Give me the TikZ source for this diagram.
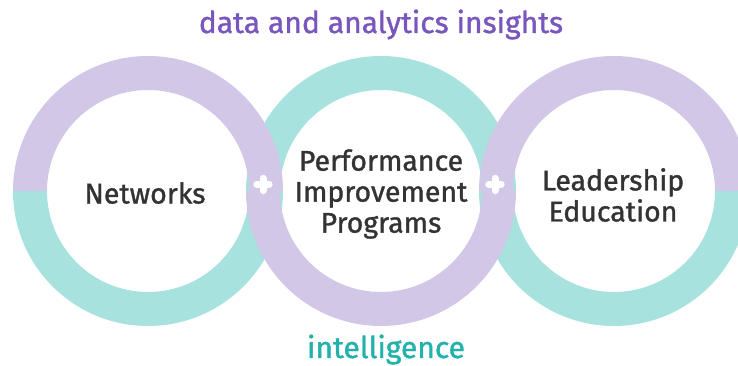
\documentclass[tikz,border=0pt]{standalone}
\usepackage{fontspec}
\setmainfont{Fira Sans}
\newfontfamily\medfont{Fira Sans}[FakeBold=1.2]
\usepackage{xcolor}
\usetikzlibrary{positioning,calc}

\definecolor{ringpurple}{HTML}{D3C7E7}
\definecolor{ringteal}{HTML}{A7E2DF}
\definecolor{headpurple}{HTML}{7856BE}
\definecolor{headteal}{HTML}{22B1AB}
\definecolor{labelgray}{HTML}{333333}

\newcommand{\rout}{135}
\newcommand{\rin}{101}
% half ring: centre, start angle, colour
\newcommand{\halfring}[3]{%
    \fill[#3] ($(#1)+(#2:\rout)$) arc[start angle=#2, delta angle=180, radius=\rout]
        -- ($(#1)+(#2+180:\rin)$) arc[start angle=#2+180, delta angle=-180, radius=\rin] -- cycle;
}

\begin{document}
\begin{tikzpicture}[
    x=1pt, y=1pt,
    label/.style={
        align=center,
        text=labelgray,
        font=\medfont\fontsize{28.5}{31}\selectfont
    },
    head/.style={
        anchor=base,
        font=\medfont\fontsize{30}{34}\selectfont
    },
    plus/.style={
        minimum size=12pt,
        inner sep=0pt
    },
    plusbar/.style={
        white,
        line width=7pt,
        line cap=round
    }
]
\useasboundingbox (0,0) rectangle (738,366);
\clip (0,0) rectangle (738,366);

% ---------------- CENTRES ----------------
\coordinate (netc) at (148,175);
\coordinate (perfc) at (381,175);
\coordinate (leadc) at (614,175);

% ---------------- RINGS ----------------
\halfring{perfc}{0}{ringteal}
\halfring{netc}{0}{ringpurple}
\halfring{netc}{180}{ringteal}
\halfring{leadc}{0}{ringpurple}
\halfring{leadc}{180}{ringteal}
\halfring{perfc}{180}{ringpurple}

% ---------------- PLUS SIGNS ----------------
\node[plus] (plusa) at (263,181.5) {};
\node[plus] (plusb) at (495,181.5) {};
\draw[plusbar] (plusa.north) -- (plusa.south);
\draw[plusbar] (plusa.west) -- (plusa.east);
\draw[plusbar] (plusb.north) -- (plusb.south);
\draw[plusbar] (plusb.west) -- (plusb.east);

% ---------------- LABELS ----------------
\node[label] (networks) at (145,173) {Networks};
\node[label] (performance) at (381,172) {Performance\\Improvement\\Programs};
\node[label] (leadership) at (613,171) {Leadership\\Education};

% ---------------- HEADINGS ----------------
\node[head, text=headpurple] (insights) at (381,333) {data and analytics insights};
\node[head, text=headteal] (intelligence) at (386,8) {intelligence};

\end{tikzpicture}
\end{document}
